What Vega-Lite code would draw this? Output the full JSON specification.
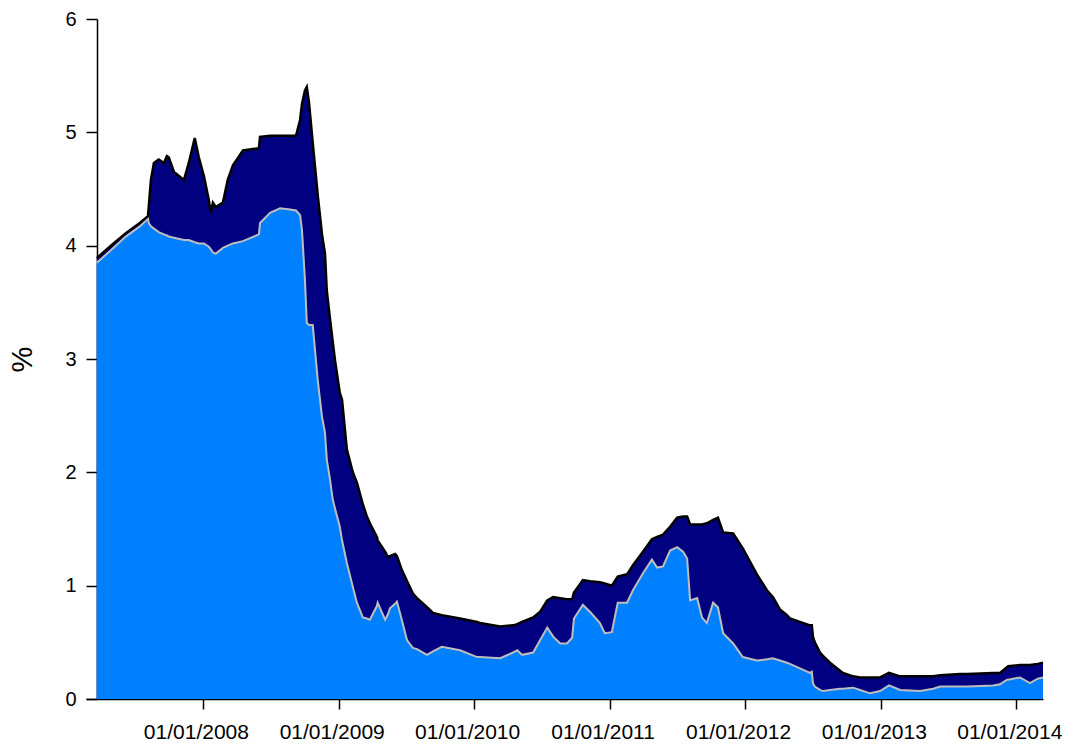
{
  "$schema": "https://vega.github.io/schema/vega-lite/v6.json",
  "width": 957,
  "height": 680,
  "autosize": {"type": "none"},
  "padding": {"left": 86, "top": 19, "right": 22, "bottom": 45},
  "background": "white",
  "config": {
    "view": {"stroke": null},
    "font": "Liberation Sans",
    "axis": {"grid": false, "domainColor": "black", "tickColor": "black", "labelColor": "black", "titleColor": "black", "labelFont": "Liberation Sans", "titleFont": "Liberation Sans", "domainWidth": 1.5, "tickWidth": 1.5}
  },
  "data": {
    "values": [
      {"date": "2007-03-21", "total": 3.89, "lower": 3.85},
      {"date": "2007-04-25", "total": 3.99, "lower": 3.95},
      {"date": "2007-06-07", "total": 4.11, "lower": 4.08},
      {"date": "2007-07-15", "total": 4.20, "lower": 4.17},
      {"date": "2007-08-06", "total": 4.26, "lower": 4.24},
      {"date": "2007-08-08", "total": 4.34, "lower": 4.20},
      {"date": "2007-08-14", "total": 4.58, "lower": 4.17},
      {"date": "2007-08-22", "total": 4.73, "lower": 4.15},
      {"date": "2007-09-04", "total": 4.76, "lower": 4.12},
      {"date": "2007-09-18", "total": 4.73, "lower": 4.10},
      {"date": "2007-09-26", "total": 4.79, "lower": 4.09},
      {"date": "2007-10-01", "total": 4.78, "lower": 4.08},
      {"date": "2007-10-15", "total": 4.65, "lower": 4.07},
      {"date": "2007-11-11", "total": 4.58, "lower": 4.05},
      {"date": "2007-11-24", "total": 4.73, "lower": 4.05},
      {"date": "2007-12-10", "total": 4.95, "lower": 4.03},
      {"date": "2007-12-21", "total": 4.78, "lower": 4.02},
      {"date": "2008-01-04", "total": 4.61, "lower": 4.02},
      {"date": "2008-01-17", "total": 4.40, "lower": 3.99},
      {"date": "2008-01-22", "total": 4.29, "lower": 3.97},
      {"date": "2008-01-28", "total": 4.38, "lower": 3.94},
      {"date": "2008-02-05", "total": 4.34, "lower": 3.93},
      {"date": "2008-02-24", "total": 4.38, "lower": 3.98},
      {"date": "2008-03-08", "total": 4.58, "lower": 4.00},
      {"date": "2008-03-22", "total": 4.71, "lower": 4.02},
      {"date": "2008-04-18", "total": 4.84, "lower": 4.04},
      {"date": "2008-05-31", "total": 4.86, "lower": 4.10},
      {"date": "2008-06-03", "total": 4.96, "lower": 4.20},
      {"date": "2008-06-30", "total": 4.97, "lower": 4.29},
      {"date": "2008-07-27", "total": 4.97, "lower": 4.33},
      {"date": "2008-08-23", "total": 4.97, "lower": 4.32},
      {"date": "2008-09-08", "total": 4.97, "lower": 4.31},
      {"date": "2008-09-19", "total": 5.11, "lower": 4.27},
      {"date": "2008-09-24", "total": 5.25, "lower": 4.14},
      {"date": "2008-10-02", "total": 5.37, "lower": 3.70},
      {"date": "2008-10-07", "total": 5.40, "lower": 3.32},
      {"date": "2008-10-13", "total": 5.26, "lower": 3.30},
      {"date": "2008-10-23", "total": 4.91, "lower": 3.30},
      {"date": "2008-11-06", "total": 4.43, "lower": 2.80},
      {"date": "2008-11-17", "total": 4.10, "lower": 2.49},
      {"date": "2008-11-25", "total": 3.93, "lower": 2.35},
      {"date": "2008-11-30", "total": 3.60, "lower": 2.11},
      {"date": "2008-12-08", "total": 3.37, "lower": 1.95},
      {"date": "2008-12-16", "total": 3.15, "lower": 1.76},
      {"date": "2008-12-22", "total": 2.99, "lower": 1.68},
      {"date": "2009-01-04", "total": 2.70, "lower": 1.52},
      {"date": "2009-01-10", "total": 2.64, "lower": 1.40},
      {"date": "2009-01-23", "total": 2.20, "lower": 1.20},
      {"date": "2009-02-08", "total": 2.00, "lower": 0.99},
      {"date": "2009-02-19", "total": 1.91, "lower": 0.85},
      {"date": "2009-03-07", "total": 1.72, "lower": 0.72},
      {"date": "2009-03-18", "total": 1.61, "lower": 0.71},
      {"date": "2009-03-26", "total": 1.55, "lower": 0.70},
      {"date": "2009-04-14", "total": 1.43, "lower": 0.82},
      {"date": "2009-04-16", "total": 1.40, "lower": 0.85},
      {"date": "2009-05-06", "total": 1.30, "lower": 0.70},
      {"date": "2009-05-14", "total": 1.25, "lower": 0.75},
      {"date": "2009-05-19", "total": 1.26, "lower": 0.80},
      {"date": "2009-06-02", "total": 1.28, "lower": 0.84},
      {"date": "2009-06-07", "total": 1.26, "lower": 0.86},
      {"date": "2009-06-20", "total": 1.14, "lower": 0.70},
      {"date": "2009-07-04", "total": 1.04, "lower": 0.52},
      {"date": "2009-07-20", "total": 0.93, "lower": 0.45},
      {"date": "2009-07-31", "total": 0.89, "lower": 0.44},
      {"date": "2009-08-27", "total": 0.81, "lower": 0.39},
      {"date": "2009-09-12", "total": 0.76, "lower": 0.42},
      {"date": "2009-10-06", "total": 0.74, "lower": 0.46},
      {"date": "2009-11-24", "total": 0.71, "lower": 0.43},
      {"date": "2010-01-09", "total": 0.68, "lower": 0.37},
      {"date": "2010-01-17", "total": 0.67, "lower": 0.37},
      {"date": "2010-03-12", "total": 0.64, "lower": 0.36},
      {"date": "2010-04-16", "total": 0.65, "lower": 0.41},
      {"date": "2010-04-27", "total": 0.66, "lower": 0.43},
      {"date": "2010-05-10", "total": 0.68, "lower": 0.39},
      {"date": "2010-06-09", "total": 0.72, "lower": 0.41},
      {"date": "2010-06-28", "total": 0.77, "lower": 0.52},
      {"date": "2010-07-17", "total": 0.87, "lower": 0.63},
      {"date": "2010-08-02", "total": 0.90, "lower": 0.55},
      {"date": "2010-08-21", "total": 0.89, "lower": 0.49},
      {"date": "2010-09-08", "total": 0.88, "lower": 0.49},
      {"date": "2010-09-22", "total": 0.88, "lower": 0.54},
      {"date": "2010-09-27", "total": 0.94, "lower": 0.71},
      {"date": "2010-10-21", "total": 1.05, "lower": 0.83},
      {"date": "2010-11-09", "total": 1.04, "lower": 0.77},
      {"date": "2010-12-06", "total": 1.03, "lower": 0.67},
      {"date": "2010-12-19", "total": 1.02, "lower": 0.58},
      {"date": "2011-01-07", "total": 1.00, "lower": 0.59},
      {"date": "2011-01-23", "total": 1.08, "lower": 0.85},
      {"date": "2011-02-17", "total": 1.10, "lower": 0.85},
      {"date": "2011-03-05", "total": 1.18, "lower": 0.96},
      {"date": "2011-04-01", "total": 1.30, "lower": 1.11},
      {"date": "2011-04-25", "total": 1.41, "lower": 1.23},
      {"date": "2011-05-09", "total": 1.43, "lower": 1.16},
      {"date": "2011-05-25", "total": 1.45, "lower": 1.17},
      {"date": "2011-06-13", "total": 1.52, "lower": 1.31},
      {"date": "2011-07-02", "total": 1.60, "lower": 1.34},
      {"date": "2011-07-18", "total": 1.61, "lower": 1.30},
      {"date": "2011-07-29", "total": 1.61, "lower": 1.24},
      {"date": "2011-08-06", "total": 1.54, "lower": 0.87},
      {"date": "2011-08-25", "total": 1.54, "lower": 0.89},
      {"date": "2011-09-07", "total": 1.54, "lower": 0.72},
      {"date": "2011-09-20", "total": 1.55, "lower": 0.67},
      {"date": "2011-10-07", "total": 1.58, "lower": 0.85},
      {"date": "2011-10-20", "total": 1.60, "lower": 0.81},
      {"date": "2011-11-03", "total": 1.47, "lower": 0.58},
      {"date": "2011-11-30", "total": 1.46, "lower": 0.49},
      {"date": "2011-12-26", "total": 1.33, "lower": 0.37},
      {"date": "2012-02-02", "total": 1.10, "lower": 0.34},
      {"date": "2012-02-29", "total": 0.96, "lower": 0.35},
      {"date": "2012-03-16", "total": 0.90, "lower": 0.36},
      {"date": "2012-04-04", "total": 0.79, "lower": 0.34},
      {"date": "2012-04-23", "total": 0.74, "lower": 0.32},
      {"date": "2012-05-01", "total": 0.71, "lower": 0.31},
      {"date": "2012-05-28", "total": 0.68, "lower": 0.27},
      {"date": "2012-06-24", "total": 0.65, "lower": 0.23},
      {"date": "2012-06-29", "total": 0.65, "lower": 0.24},
      {"date": "2012-07-02", "total": 0.55, "lower": 0.14},
      {"date": "2012-07-07", "total": 0.50, "lower": 0.11},
      {"date": "2012-07-21", "total": 0.41, "lower": 0.08},
      {"date": "2012-07-29", "total": 0.38, "lower": 0.07},
      {"date": "2012-08-17", "total": 0.32, "lower": 0.08},
      {"date": "2012-09-13", "total": 0.25, "lower": 0.09},
      {"date": "2012-09-21", "total": 0.23, "lower": 0.09},
      {"date": "2012-10-18", "total": 0.20, "lower": 0.10},
      {"date": "2012-11-06", "total": 0.19, "lower": 0.08},
      {"date": "2012-12-03", "total": 0.19, "lower": 0.05},
      {"date": "2012-12-30", "total": 0.19, "lower": 0.07},
      {"date": "2013-01-23", "total": 0.23, "lower": 0.12},
      {"date": "2013-02-22", "total": 0.20, "lower": 0.08},
      {"date": "2013-04-17", "total": 0.20, "lower": 0.07},
      {"date": "2013-05-22", "total": 0.20, "lower": 0.09},
      {"date": "2013-06-10", "total": 0.21, "lower": 0.11},
      {"date": "2013-08-03", "total": 0.22, "lower": 0.11},
      {"date": "2013-08-22", "total": 0.22, "lower": 0.11},
      {"date": "2013-10-31", "total": 0.23, "lower": 0.12},
      {"date": "2013-11-18", "total": 0.23, "lower": 0.13},
      {"date": "2013-12-07", "total": 0.28, "lower": 0.17},
      {"date": "2013-12-10", "total": 0.29, "lower": 0.17},
      {"date": "2014-01-11", "total": 0.30, "lower": 0.19},
      {"date": "2014-02-07", "total": 0.30, "lower": 0.14},
      {"date": "2014-02-28", "total": 0.31, "lower": 0.18},
      {"date": "2014-03-14", "total": 0.32, "lower": 0.19}
    ]
  },
  "encoding": {
    "x": {
      "field": "date",
      "type": "temporal",
      "scale": {"type": "utc", "domain": [{"year": 2007, "month": 2, "date": 20, "utc": true}, {"year": 2014, "month": 3, "date": 14, "utc": true}]},
      "axis": {
        "title": null,
        "values": [
          {"year": 2008, "month": 1, "date": 1, "utc": true},
          {"year": 2009, "month": 1, "date": 1, "utc": true},
          {"year": 2010, "month": 1, "date": 1, "utc": true},
          {"year": 2011, "month": 1, "date": 1, "utc": true},
          {"year": 2012, "month": 1, "date": 1, "utc": true},
          {"year": 2013, "month": 1, "date": 1, "utc": true},
          {"year": 2014, "month": 1, "date": 1, "utc": true}
        ],
        "labelExpr": "utcFormat(datum.value, '%d/%m/%Y')",
        "labelFontSize": 21,
        "labelOffset": -7,
        "tickSize": 10,
        "labelPadding": 12,
        "labelFlush": false,
        "labelOverlap": false
      }
    }
  },
  "layer": [
    {
      "mark": {"type": "area", "color": "#000080", "interpolate": "linear"},
      "encoding": {
        "y": {
          "field": "total",
          "type": "quantitative",
          "scale": {"domain": [0, 6], "nice": false, "zero": true},
          "axis": {
            "title": "%",
            "titleFontSize": 29,
            "titleFontWeight": "normal",
            "titlePadding": 27,
            "values": [0, 1, 2, 3, 4, 5, 6],
            "format": "d",
            "labelFontSize": 20,
            "tickSize": 11,
            "labelPadding": 10,
            "offset": -11,
            "labelFlush": false
          }
        }
      }
    },
    {
      "mark": {"type": "area", "color": "#0080FF", "interpolate": "linear"},
      "encoding": {"y": {"field": "lower", "type": "quantitative"}}
    },
    {
      "mark": {"type": "line", "color": "#BEBEBE", "strokeWidth": 2, "interpolate": "linear"},
      "encoding": {"y": {"field": "lower", "type": "quantitative"}}
    },
    {
      "mark": {"type": "line", "color": "black", "strokeWidth": 2.5, "interpolate": "linear"},
      "encoding": {"y": {"field": "total", "type": "quantitative"}}
    }
  ]
}
